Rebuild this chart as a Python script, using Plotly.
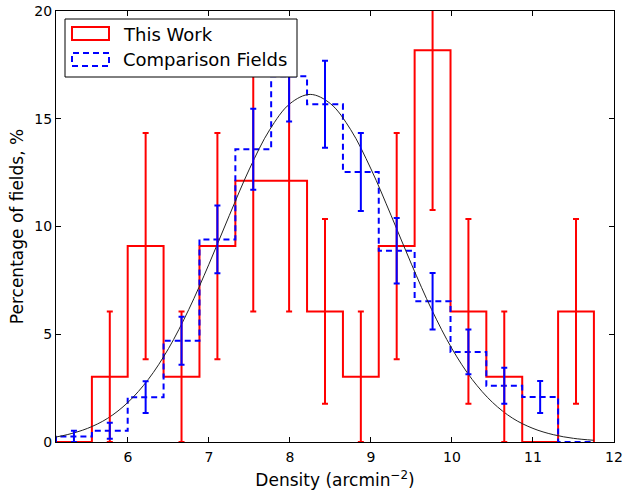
import plotly.graph_objects as go

# ---------------- data ----------------
bin_edges = [5.112, 5.555, 5.997, 6.440, 6.883, 7.326, 7.768, 8.211, 8.654,
             9.096, 9.539, 9.982, 10.424, 10.867, 11.310, 11.752]

this_work_pct = [0.0, 3.03, 9.09, 3.03, 9.09, 12.12, 12.12, 6.06, 3.03,
                 9.09, 18.18, 6.06, 3.03, 0.0, 6.06]
this_work_err = [0.0, 3.03, 5.25, 3.03, 5.25, 6.06, 6.06, 4.29, 3.03,
                 5.25, 7.42, 4.29, 3.03, 0.0, 4.29]

comparison_pct = [0.26, 0.52, 2.08, 4.70, 9.40, 13.58, 16.97, 15.67, 12.53,
                  8.88, 6.53, 4.18, 2.61, 2.09, 0.0]
comparison_err = [0.26, 0.37, 0.74, 1.11, 1.57, 1.88, 2.10, 2.02, 1.81,
                  1.52, 1.31, 1.04, 0.83, 0.74, 0.0]

fit_x = [5.11, 5.25, 5.5, 5.75, 6.0, 6.25, 6.5, 6.75, 7.0, 7.25, 7.5, 7.75,
         8.0, 8.25, 8.5, 8.75, 9.0, 9.25, 9.5, 9.75, 10.0, 10.25, 10.5,
         10.75, 11.0, 11.25, 11.5, 11.75]
fit_y = [0.23, 0.34, 0.63, 1.10, 1.84, 2.90, 4.33, 6.14, 8.25, 10.50, 12.67,
         14.49, 15.70, 16.13, 15.70, 14.49, 12.67, 10.50, 8.25, 6.14, 4.33,
         2.90, 1.84, 1.10, 0.63, 0.34, 0.17, 0.08]

x_ticks = [6, 7, 8, 9, 10, 11, 12]
y_ticks = [0, 5, 10, 15, 20]

series_names = ["This Work", "Comparison Fields"]

# ---------------- layout geometry ----------------
W, H = 624, 492
SL, SR, ST, SB = 56, 614, 11, 442   # plot-area edges in pixels


def px(xp):
    return (xp - SL) / (SR - SL)


def py(yp):
    return (SB - yp) / (SB - ST)


def step_path(edges, vals):
    xs = [edges[0]] + list(edges)
    ys = [0.0] + list(vals) + [0.0]
    return xs, ys


centers = [(a + b) / 2 for a, b in zip(bin_edges[:-1], bin_edges[1:])]

fig = go.Figure()

rx, ry = step_path(bin_edges, this_work_pct)
fig.add_trace(go.Scatter(x=rx, y=ry, mode="lines", line_shape="hv",
                         line=dict(color="#ff0000", width=2),
                         name=series_names[0], showlegend=False,
                         hoverinfo="skip"))

bx, by = step_path(bin_edges, comparison_pct)
fig.add_trace(go.Scatter(x=bx, y=by, mode="lines", line_shape="hv",
                         line=dict(color="#0000ff", width=2, dash="6px,4px"),
                         name=series_names[1], showlegend=False,
                         hoverinfo="skip"))

fig.add_trace(go.Scatter(x=fit_x, y=fit_y, mode="lines", line_shape="spline",
                         line=dict(color="#222222", width=1),
                         showlegend=False, hoverinfo="skip"))

# error bars (skip empty bins)
rc = [c for c, e in zip(centers, this_work_err) if e > 0]
rv = [v for v, e in zip(this_work_pct, this_work_err) if e > 0]
re_ = [e for e in this_work_err if e > 0]
fig.add_trace(go.Scatter(x=rc, y=rv, mode="markers",
                         marker=dict(size=1, opacity=0),
                         error_y=dict(type="data", array=re_, color="#ff0000",
                                      thickness=2, width=3),
                         showlegend=False, hoverinfo="skip"))

bc = [c for c, e in zip(centers, comparison_err) if e > 0]
bv = [v for v, e in zip(comparison_pct, comparison_err) if e > 0]
be = [e for e in comparison_err if e > 0]
fig.add_trace(go.Scatter(x=bc, y=bv, mode="markers",
                         marker=dict(size=1, opacity=0),
                         error_y=dict(type="data", array=be, color="#0000ff",
                                      thickness=2, width=3),
                         showlegend=False, hoverinfo="skip"))

# ---------------- custom legend (matplotlib style) ----------------
shapes = [
    dict(type="rect", xref="paper", yref="paper", layer="above",
         x0=px(65), x1=px(297), y0=py(77), y1=py(19),
         line=dict(color="black", width=1), fillcolor="white"),
    dict(type="rect", xref="paper", yref="paper", layer="above",
         x0=px(72), x1=px(109), y0=py(40), y1=py(27),
         line=dict(color="#ff0000", width=2), fillcolor="rgba(0,0,0,0)"),
    dict(type="rect", xref="paper", yref="paper", layer="above",
         x0=px(72), x1=px(109), y0=py(66), y1=py(53),
         line=dict(color="#0000ff", width=2, dash="6px,4px"),
         fillcolor="rgba(0,0,0,0)"),
]
annotations = [
    dict(xref="paper", yref="paper", x=px(121), y=py(34), text=series_names[0],
         showarrow=False, xanchor="left", yanchor="middle",
         font=dict(size=18, color="black")),
    dict(xref="paper", yref="paper", x=px(121), y=py(60), text=series_names[1],
         showarrow=False, xanchor="left", yanchor="middle",
         font=dict(size=18, color="black")),
]

fig.update_layout(
    width=W, height=H,
    margin=dict(l=SL, r=W - SR, t=ST, b=H - SB),
    paper_bgcolor="white", plot_bgcolor="white",
    font=dict(family="DejaVu Sans", size=14, color="black"),
    shapes=shapes, annotations=annotations,
    showlegend=False,
    xaxis=dict(range=[bin_edges[0], 12], tickvals=x_ticks,
               ticktext=[str(t) for t in x_ticks],
               ticks="inside", ticklen=5, tickcolor="black",
               ticklabelstandoff=2, ticklabeloverflow="allow",
               showline=True, linecolor="black", linewidth=1, mirror="ticks",
               showgrid=False, zeroline=False, automargin=False,
               title=dict(text="Density (arcmin<sup>\u22122</sup>)",
                          font=dict(size=17), standoff=10)),
    yaxis=dict(range=[0, 20], tickvals=y_ticks,
               ticktext=[str(t) for t in y_ticks],
               ticks="inside", ticklen=5, tickcolor="black",
               ticklabeloverflow="allow",
               showline=True, linecolor="black", linewidth=1, mirror="ticks",
               showgrid=False, zeroline=False, automargin=False,
               title=dict(text="Percentage of fields, %",
                          font=dict(size=17), standoff=6)),
)

fig.write_html("out.html",
               config={"displayModeBar": False, "staticPlot": True},
               post_script="document.body.style.margin='0';"
                           "document.body.style.overflow='hidden';")
